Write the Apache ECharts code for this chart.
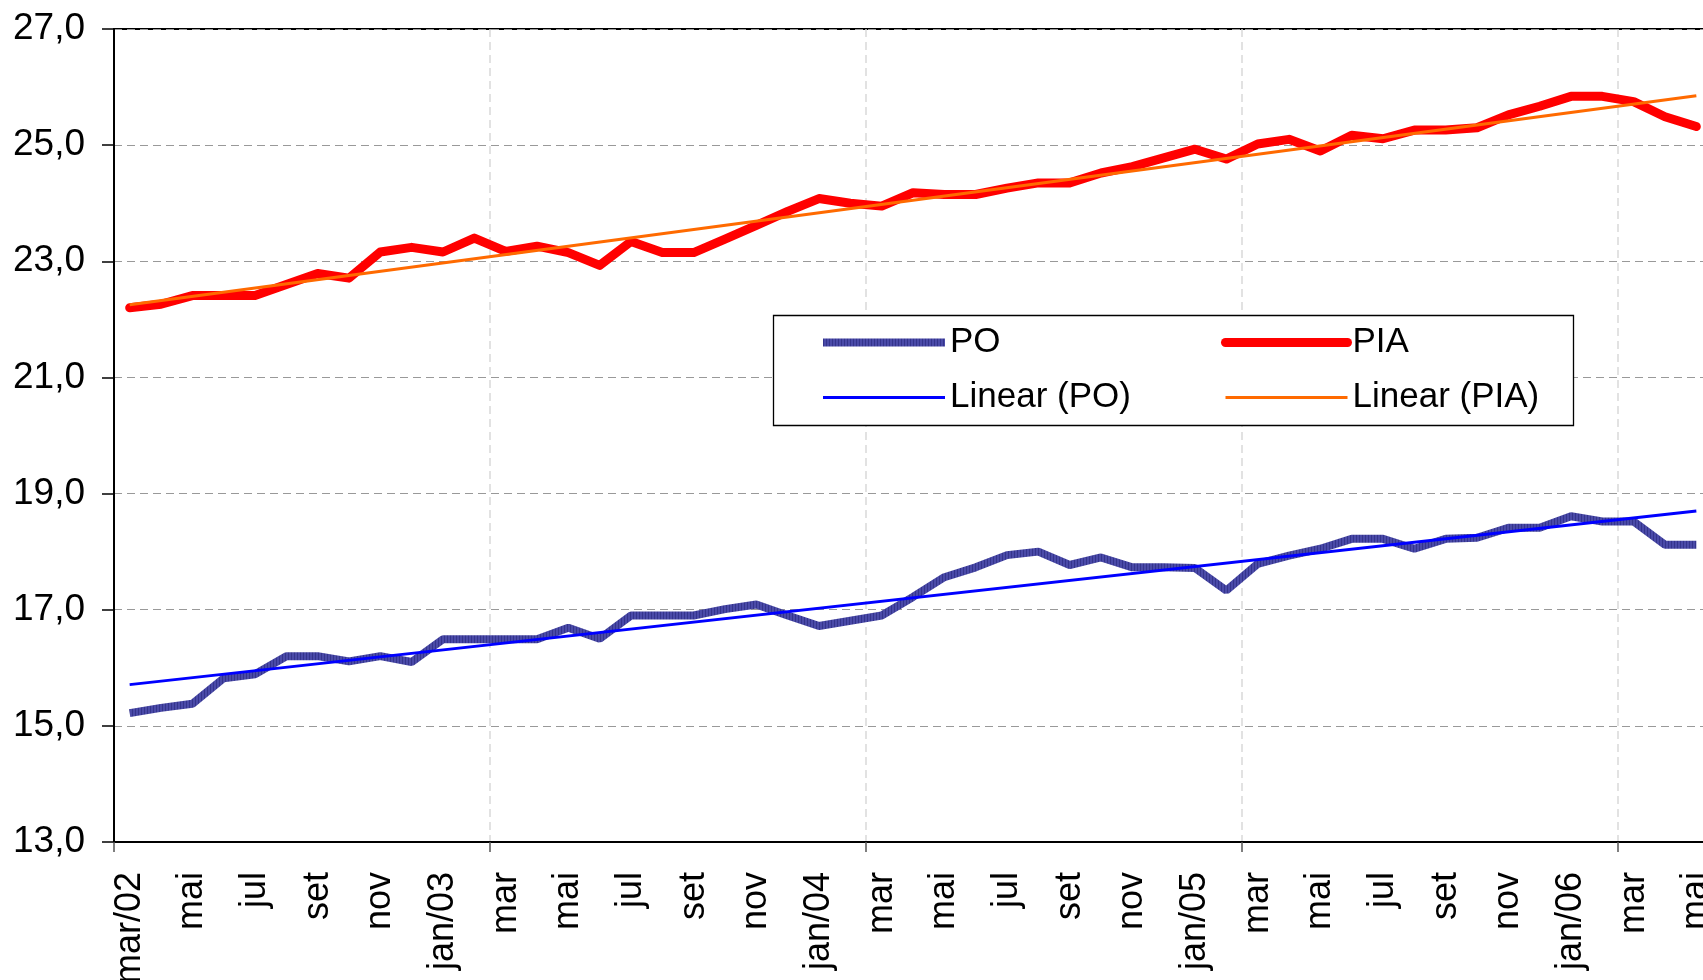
<!DOCTYPE html>
<html>
<head>
<meta charset="utf-8">
<script src="https://cdn.jsdelivr.net/npm/echarts@6/dist/echarts.min.js"></script>
<style>
  html, body { margin: 0; padding: 0; background: #fff; }
  #chart { width: 1703px; height: 980px; }
</style>
</head>
<body>
<div id="chart"></div>
<script>
// meses de mar/02 a mai/06
const categories = [
  'mar/02', 'abr', 'mai', 'jun', 'jul', 'ago', 'set', 'out', 'nov', 'dez',
  'jan/03', 'fev', 'mar', 'abr', 'mai', 'jun', 'jul', 'ago', 'set', 'out', 'nov', 'dez',
  'jan/04', 'fev', 'mar', 'abr', 'mai', 'jun', 'jul', 'ago', 'set', 'out', 'nov', 'dez',
  'jan/05', 'fev', 'mar', 'abr', 'mai', 'jun', 'jul', 'ago', 'set', 'out', 'nov', 'dez',
  'jan/06', 'fev', 'mar', 'abr', 'mai'
]
const poValues = [
  15.22, 15.31, 15.38, 15.82, 15.89, 16.20, 16.20, 16.11, 16.20, 16.10,
  16.49, 16.49, 16.49, 16.49, 16.69, 16.50, 16.90, 16.90, 16.90, 17.01, 17.09, 16.90,
  16.72, 16.81, 16.90, 17.22, 17.56, 17.73, 17.94, 18.00, 17.77, 17.90, 17.73, 17.73,
  17.72, 17.33, 17.79, 17.93, 18.05, 18.22, 18.22, 18.05, 18.22, 18.24, 18.41, 18.41,
  18.61, 18.52, 18.52, 18.12, 18.12
]
const piaValues = [
  22.20, 22.26, 22.41, 22.41, 22.41, 22.60, 22.79, 22.71, 23.16, 23.24,
  23.16, 23.40, 23.17, 23.26, 23.15, 22.93, 23.34, 23.15, 23.15, 23.38, 23.62, 23.86,
  24.08, 24.00, 23.95, 24.18, 24.15, 24.15, 24.26, 24.35, 24.35, 24.52, 24.63, 24.78,
  24.93, 24.76, 25.02, 25.10, 24.90, 25.17, 25.11, 25.26, 25.26, 25.30, 25.52, 25.67,
  25.84, 25.84, 25.75, 25.49, 25.32
]
// tendências lineares: valor no primeiro e no último mês
const trendPO = [15.71, 18.70]
const trendPIA = [22.25, 25.85]
// eixo y
const yMin = 13
const yMax = 27
const yStep = 2

const FONT = 'Liberation Sans, Arial, sans-serif'

// textura listrada da linha PO
function stripePattern () {
  const c = document.createElement('canvas')
  c.width = 3
  c.height = 1
  const ctx = c.getContext('2d')
  ctx.fillStyle = '#4a4aa8'
  ctx.fillRect(0, 0, 3, 1)
  ctx.fillStyle = '#34348c'
  ctx.fillRect(0, 0, 1, 1)
  return c
}

const lastIdx = categories.length - 1
const chart = echarts.init(document.getElementById('chart'))

const legendBase = {
  orient: 'vertical',
  top: 320,
  itemWidth: 122,
  itemHeight: 34,
  itemGap: 20,
  z: 5,
  selectedMode: false,
  itemStyle: { opacity: 0 },
  lineStyle: { width: 'inherit' },
  textStyle: { color: '#000', fontSize: 35, fontFamily: FONT, lineHeight: 34 }
}

chart.setOption({
  animation: false,
  backgroundColor: '#fff',
  grid: {
    left: 114,
    right: -9,
    top: 29,
    bottom: 138,
    show: true,
    borderColor: '#000',
    borderWidth: 2,
    containLabel: false,
    outerBoundsMode: 'none'
  },
  graphic: [{
    type: 'rect',
    z: 3,
    shape: { x: 773.5, y: 315.5, width: 800, height: 110 },
    style: { fill: '#fff', stroke: '#000', lineWidth: 1.3 }
  }],
  legend: [
    Object.assign({}, legendBase, { left: 814, data: ['PO', 'Linear (PO)'] }),
    Object.assign({}, legendBase, { left: 1216, data: ['PIA', 'Linear (PIA)'] })
  ],
  xAxis: {
    type: 'category',
    data: categories,
    boundaryGap: true,
    axisLine: { lineStyle: { color: '#000', width: 2 } },
    axisTick: { show: true, interval: 11, length: 10, lineStyle: { color: '#555', width: 1.5 } },
    axisLabel: {
      interval: 1,
      rotate: 90,
      margin: 30,
      hideOverlap: false,
      color: '#000',
      fontSize: 36,
      fontFamily: FONT
    },
    splitLine: {
      show: true,
      interval: 11,
      lineStyle: { color: '#d9d9d9', width: 1.5, type: [8, 5] }
    }
  },
  yAxis: {
    type: 'value',
    min: yMin,
    max: yMax,
    interval: yStep,
    axisLine: { show: true, lineStyle: { color: '#000', width: 2 } },
    axisTick: { show: true, length: 12, lineStyle: { color: '#000', width: 1.5 } },
    axisLabel: {
      margin: 29,
      color: '#000',
      fontSize: 37,
      fontFamily: FONT,
      formatter: (v) => v.toFixed(1).replace('.', ',')
    },
    splitLine: {
      show: true,
      lineStyle: { color: '#999', width: 1, type: [8, 5] }
    }
  },
  series: [
    {
      name: 'PO',
      type: 'line',
      data: poValues,
      symbol: 'none',
      lineStyle: {
        color: { image: stripePattern(), repeat: 'repeat' },
        width: 8,
        cap: 'butt',
        join: 'bevel'
      }
    },
    {
      name: 'PIA',
      type: 'line',
      data: piaValues,
      symbol: 'none',
      lineStyle: { color: '#ff0000', width: 9, cap: 'round', join: 'round' }
    },
    {
      name: 'Linear (PO)',
      type: 'line',
      data: [[0, trendPO[0]], [lastIdx, trendPO[1]]],
      symbol: 'none',
      lineStyle: { color: '#0000ff', width: 3 }
    },
    {
      name: 'Linear (PIA)',
      type: 'line',
      data: [[0, trendPIA[0]], [lastIdx, trendPIA[1]]],
      symbol: 'none',
      lineStyle: { color: '#ff6a00', width: 3 }
    }
  ]
})
</script>
</body>
</html>
